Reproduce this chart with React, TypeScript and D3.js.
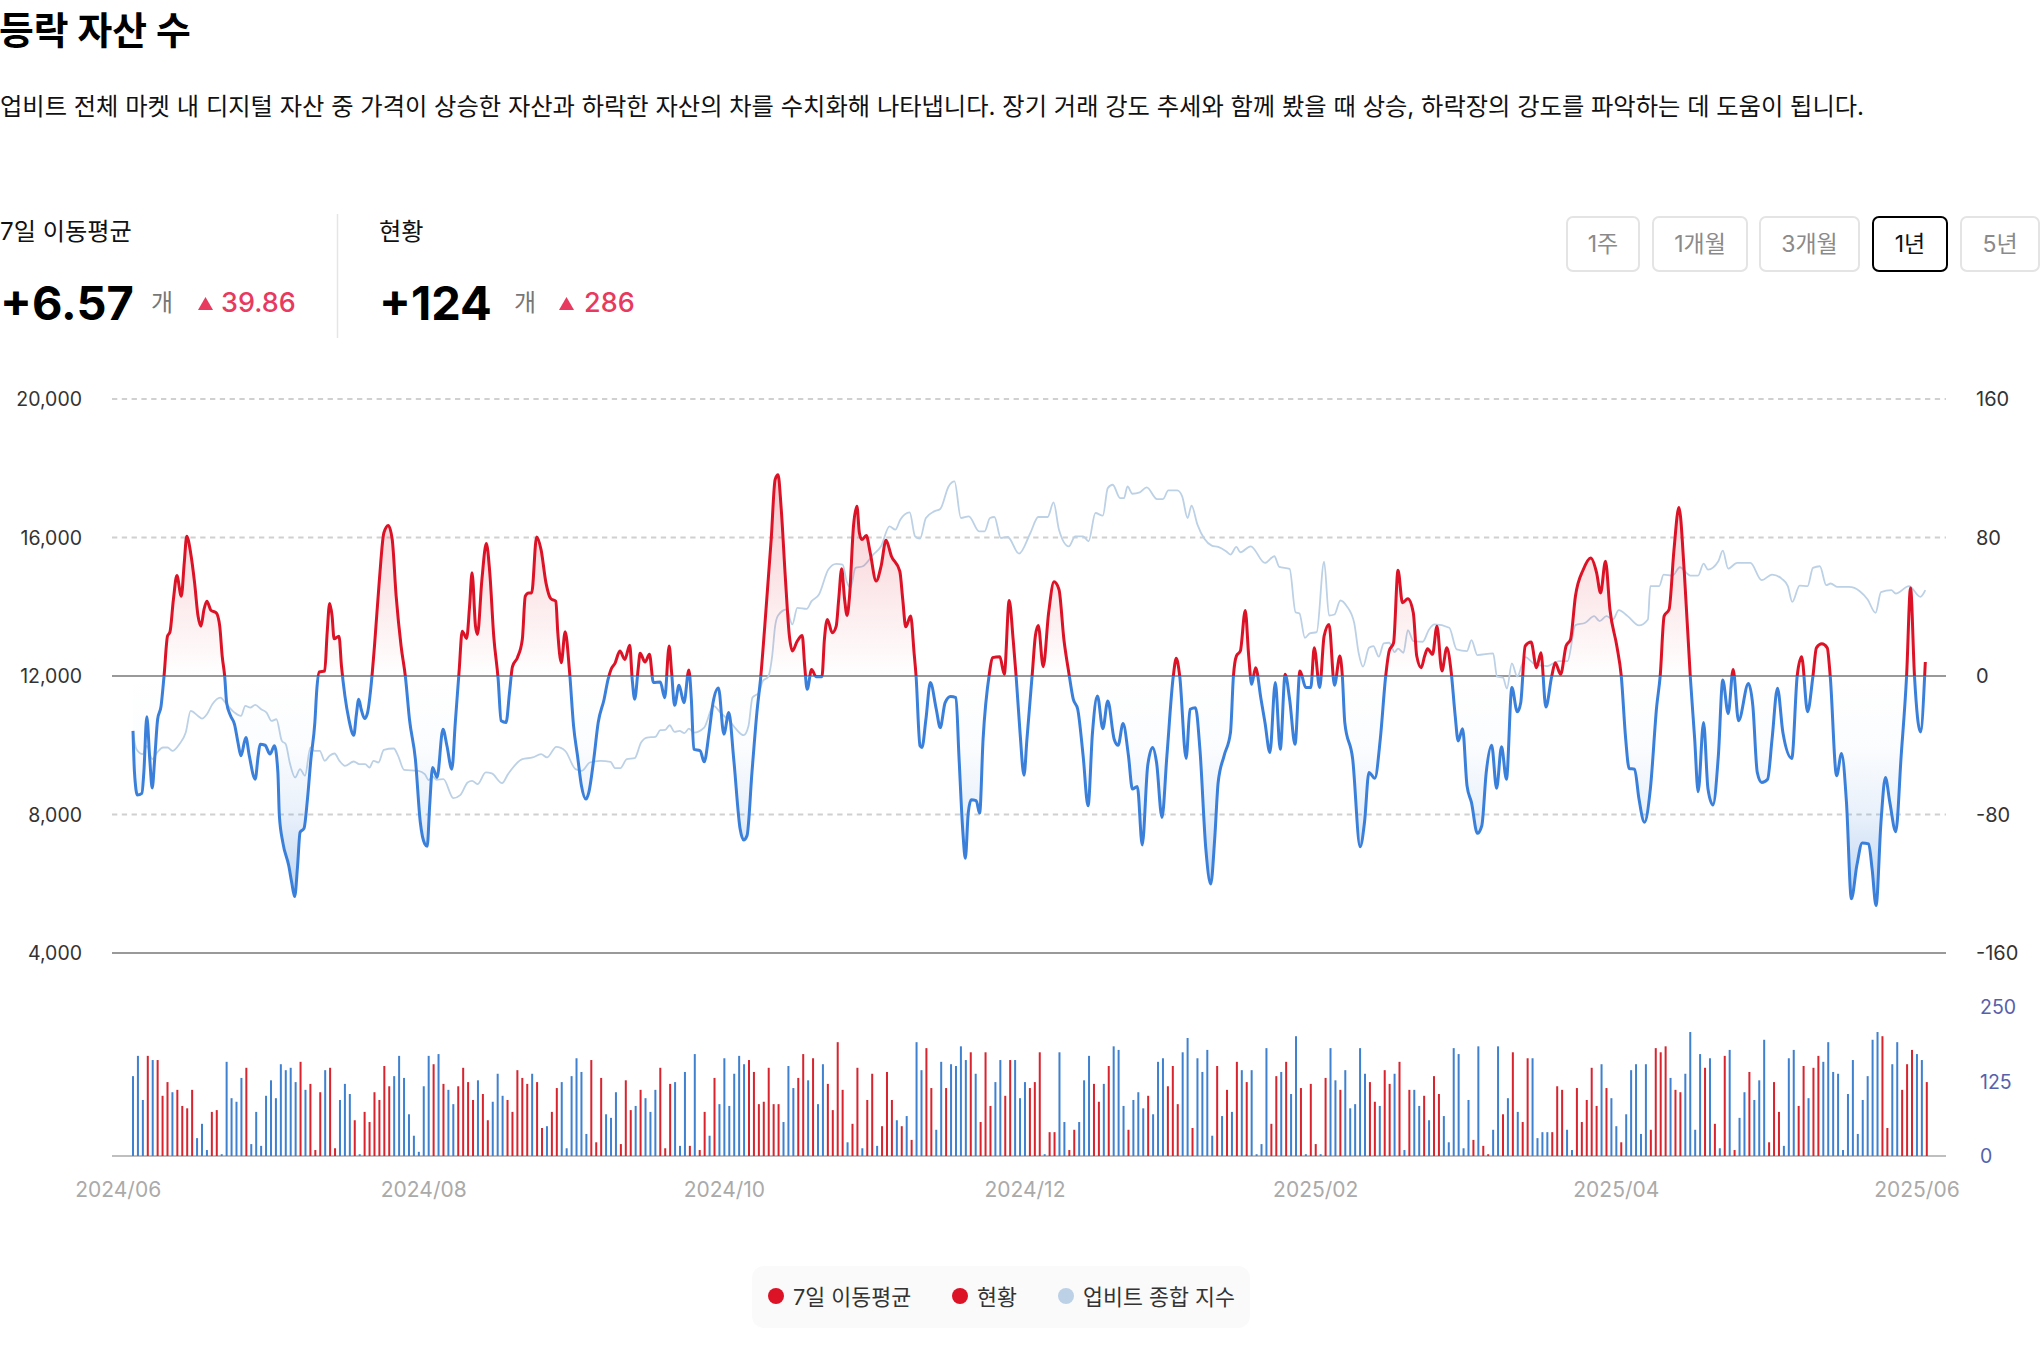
import * as d3 from "d3";

const FONT = "Inter, 'Noto Sans CJK KR', sans-serif";

const leftTicks = [20000, 16000, 12000, 8000, 4000];
const rightTicks = [160, 80, 0, -80, -160];
const barTicks = [250, 125, 0];
const dateLabels = ["2024/06", "2024/08", "2024/10", "2024/12", "2025/02", "2025/04", "2025/06"];
const dateDays = [-3, 59, 120, 181, 240, 301, 362];
const ranges = ["1주", "1개월", "3개월", "1년", "5년"];
const legendItems = ["7일 이동평균", "현황", "업비트 종합 지수"];

// [day index, 7 day average]
const maPoints: [number, number][] = [
  [0, -31.7], [0.3, -55.7], [0.9, -68.8], [1.8, -67.8], [2.2, -55.7], [2.8, -23.6], [3.4, -48], [3.9, -64.7], [4.4, -48], [5, -25],
  [5.7, -17.3], [6.3, 0], [7, 23], [7.5, 25.4], [8.2, 44.2], [8.9, 58], [9.8, 46.1], [10.4, 65.3], [10.9, 80.7], [11.7, 71.1],
  [12.5, 53.8], [13.2, 34.6], [13.8, 28.8], [14.4, 38.4], [15, 43.2], [15.8, 38], [16.9, 36.5], [17.6, 28.8], [18.1, 11.5], [18.6, 0],
  [19, -15.4], [19.8, -23], [20.6, -27.9], [21.3, -38.4], [21.9, -46.1], [22.9, -35.5], [23.6, -46.1], [24.8, -59.6], [25.4, -46.1], [25.8, -39.4],
  [26.8, -40], [27.8, -45.1], [28.7, -40.3], [29.4, -55.7], [29.7, -80.7], [30.4, -96.1], [31.6, -109.5], [32.2, -119.1], [32.8, -127.4], [33.4, -109.5],
  [33.9, -90.3], [34.7, -88], [35.4, -71.1], [36.1, -48], [36.9, -26.9], [37.3, -7.7], [37.8, 2.3], [38.9, 2.9], [39.4, 25], [39.9, 41.9],
  [40.4, 34.6], [40.8, 21.5], [41.8, 23], [42.3, 5.8], [43, -11.5], [43.8, -25], [44.8, -34.2], [45.3, -23], [45.8, -13.4], [46.3, -19.2],
  [47, -24.6], [47.6, -21.1], [48.3, -5.8], [49, 17.3], [50, 55.7], [50.9, 82.6], [51.8, 87], [52.6, 78.8], [53.4, 46.1], [54.4, 17.3],
  [55.3, -1], [56.1, -25], [57.3, -48], [58.3, -84.5], [59.2, -97], [59.7, -98.4], [60.2, -74.9], [60.8, -52.8], [61.7, -58.6], [62.9, -30.7],
  [63.7, -40.3], [64.7, -53.8], [65.4, -26.9], [66.2, 3.8], [66.8, 25.9], [67.7, 21.7], [68.3, 40.3], [68.8, 59.6], [69.5, 28.8], [69.9, 24],
  [70.8, 55.7], [71.7, 76.5], [72.4, 59.6], [73.2, 23], [74.1, -1.9], [74.7, -25.9], [75.7, -26.9], [76.4, -9.6], [77, 5.4], [78, 10.6],
  [79, 21.1], [79.6, 46.1], [80.3, 48], [80.9, 48], [81.9, 80.3], [82.8, 73], [83.8, 53.8], [84.8, 44.6], [85.8, 43.2], [86.2, 25],
  [86.9, 7.7], [87.7, 25.6], [88.6, 1.9], [89.4, -28.8], [90.2, -46.1], [91, -63.4], [91.9, -71.1], [92.5, -67.2], [93.5, -48], [94.4, -26.9],
  [95.6, -13.4], [96.4, -1.9], [97, 3.8], [97.8, 7.3], [98.8, 14.4], [99.8, 9.6], [100.8, 17.7], [101.3, -1.9], [101.8, -13.4], [102.5, 3.8],
  [102.9, 13.1], [103.9, 8.1], [104.8, 12.5], [105.6, -3.8], [107, -3.5], [107.9, -12.5], [108.8, 17.3], [109.3, 1.9], [109.9, -16.9], [110.8, -5.4],
  [111.8, -15.4], [112.8, 3.5], [113.3, -13.4], [113.8, -42.3], [115.1, -43.2], [115.9, -49.6], [116.9, -32.7], [117.7, -15.4], [118.8, -6.9], [119.9, -33.6],
  [120.9, -21.1], [121.9, -48], [123.2, -88.4], [123.9, -94.7], [124.6, -92.2], [125.6, -55.7], [126.6, -21.1], [127.4, 0], [128.2, 28.8], [129.5, 78.8],
  [130.3, 113.4], [130.9, 116.2], [131.5, 98], [132.4, 55.7], [133.2, 23], [133.8, 14.4], [134.8, 20.2], [135.8, 23.4], [136.3, 5.8], [136.8, -7.7],
  [137.7, 3.8], [138.6, -0.4], [139.8, -0.4], [140.3, 21.1], [140.9, 32.7], [141.9, 25], [142.7, 28.8], [143.2, 44.2], [143.8, 61.9], [144.4, 44.2],
  [144.9, 35], [145.4, 46.1], [146.2, 86.5], [146.9, 98], [147.4, 82.6], [147.9, 78.8], [148.8, 81.1], [149.6, 71.1], [150.8, 54.9], [151.8, 63.4],
  [152.8, 78.4], [153.9, 69.2], [155.6, 60.5], [156.2, 44.2], [156.8, 28.4], [157.8, 34.6], [158.5, 13.4], [158.9, 0], [159.7, -40.3], [160.1, -41.3],
  [160.9, -25], [161.8, -3.8], [163, -19.2], [163.8, -29.8], [164.8, -15.4], [165.9, -11.9], [167, -12.5], [167.6, -46.1], [168.4, -90.3], [168.9, -105.3],
  [169.5, -78.8], [170.1, -71.5], [171.1, -72], [171.8, -79.2], [172.5, -36.5], [173.8, 1.9], [174.4, 10.6], [175.9, 11.1], [176.8, 1], [177.8, 43.6],
  [178.6, 21.1], [179.2, 0], [180, -32.7], [180.8, -57.3], [181.4, -36.5], [182.5, 1.9], [183.1, 23], [183.7, 29.2], [184.7, 5.4], [185.8, 36.5],
  [186.9, 54.4], [187.9, 50], [188.9, 21.1], [189.9, 1.9], [190.8, -13.4], [191.7, -19.2], [192.8, -46.1], [193.8, -74.9], [194.7, -32.7], [195.7, -11.5],
  [196.8, -30.4], [197.8, -14.4], [199.1, -36.5], [199.9, -40], [200.9, -27.5], [202, -46.1], [202.8, -65.3], [203.8, -63.8], [204.8, -97.6], [205.9, -51.9],
  [206.9, -41.3], [207.7, -50], [208.8, -81.7], [209.8, -46.1], [211.1, 0], [211.7, 10.2], [212.4, 0], [213.7, -47.6], [214.5, -19.2], [215.6, -18.3],
  [216.5, -42.3], [217.7, -99.9], [218.7, -120.1], [219.5, -94.1], [220.2, -61.5], [221.4, -46.1], [222.7, -32.7], [223.3, 0], [223.9, 11.5], [224.7, 14.4],
  [225.7, 37.8], [226.4, 11.5], [227, -4.8], [227.8, 4.8], [228.9, -13.4], [229.7, -26.9], [230.7, -44.2], [231.8, -3.8], [232.8, -42.3], [233.8, 1],
  [234.7, -13.4], [235.8, -39.4], [236.8, 2.9], [238, -6.7], [239, -6.7], [239.7, 16.3], [240.8, -6.7], [241.7, 23], [242.7, 29.8], [243.8, -5.4],
  [244.9, 11.5], [245.4, 0], [245.9, -26.9], [247.5, -48], [249, -98.6], [249.9, -84.5], [250.8, -55.7], [252, -59], [253.1, -36.5], [254.2, 0],
  [254.9, 14.4], [255.8, 19.2], [256.7, 61.1], [257.6, 42.3], [258.7, 44.6], [259.8, 36.5], [260.5, 11.5], [261.4, 4.8], [262.1, 11.5], [262.7, 15.8],
  [263.7, 12.5], [264.6, 28.8], [265.6, 2.9], [266.6, 16.3], [267.5, 1.9], [268.3, -23], [268.9, -37.5], [269.8, -30.4], [270.7, -63.4], [271.6, -73],
  [272.8, -90.9], [273.7, -86.5], [274.6, -55.7], [275.7, -40], [276.7, -64.9], [277.7, -40.9], [278.7, -59.6], [279.8, -6.7], [280.9, -20.7], [281.6, -15.4],
  [282.5, 17.3], [283.7, 19.6], [284.8, 4.8], [285.7, 13.4], [286.7, -17.9], [287.9, 0], [288.6, 7.7], [289.7, 1], [290.8, 17.3], [291.7, 21.1],
  [292.7, 46.1], [294.3, 61.5], [295.8, 68.2], [297, 59.6], [297.8, 48], [298.8, 66.3], [299.7, 38.4], [301.1, 17.3], [302, 0], [302.9, -36.5],
  [303.6, -53.4], [304.7, -53.8], [305.6, -71.1], [306.7, -84.5], [307.9, -65.3], [309.2, -17.3], [309.9, 0], [310.7, 34.6], [311.7, 38.4], [312.7, 73],
  [313.7, 97.4], [314.8, 59.6], [316, 0], [316.9, -36.5], [317.6, -66.9], [318.7, -26.9], [319.6, -65.3], [320.6, -74.5], [321.7, -46.1], [322.6, -2.3],
  [323.7, -21.7], [324.7, 3.8], [325.8, -25.9], [327.8, -4.4], [328.7, -17.3], [329.6, -55.7], [330.5, -61.5], [331.7, -59.6], [332.6, -36.5], [333.7, -7.1],
  [334.8, -32.7], [336.6, -47.6], [337.7, 0], [338.6, 11.1], [339.8, -20.6], [340.9, 0], [341.6, 16.3], [342.7, 18.6], [343.8, 16.3], [344.4, 0],
  [345.7, -57.6], [346.7, -44.8], [347.7, -73], [348.7, -128.7], [349.8, -109.5], [350.9, -96.4], [352.2, -97], [352.9, -111.4], [353.7, -132.6], [354.7, -84.5],
  [355.6, -58.6], [356.5, -73], [357.7, -89.9], [358.8, -46.1], [359.9, 0], [360.7, 50.9], [361.5, 0], [362.7, -32.3], [363.7, 8.1],
];

// [day index, upbit composite index]
const indexPoints: [number, number][] = [
  [0, 10367], [0.7, 9887], [2, 9743], [2.8, 9983], [3.9, 9600], [4.9, 9790], [6.1, 9935], [7, 9935], [8, 9839], [9.4, 10031],
  [10.7, 10367], [11.7, 10991], [13.2, 10847], [14, 10770], [15, 10895], [16.1, 11183], [17.7, 11376], [19, 11183], [20.6, 10943], [21.9, 10847],
  [22.8, 11135], [23.8, 11087], [24.8, 11164], [26, 11039], [27.1, 10943], [28.1, 10703], [29.1, 10751], [30.2, 10127], [31, 10031], [31.8, 9502],
  [32.9, 9070], [33.9, 9310], [34.9, 9118], [36, 9935], [36.8, 9839], [37.9, 9839], [38.9, 9550], [39.9, 9695], [40.9, 9762], [41.9, 9550],
  [43, 9406], [44.8, 9531], [45.9, 9454], [47.1, 9454], [48, 9358], [48.8, 9550], [49.8, 9502], [50.9, 9867], [52.9, 9906], [53.8, 9695],
  [55, 9291], [57.9, 9262], [59.2, 9166], [60, 8993], [60.8, 9099], [61.6, 9003], [63, 9022], [65, 8475], [66.4, 8561], [67.9, 8926],
  [68.8, 8974], [69.9, 8878], [71.6, 9214], [72.8, 9185], [74.9, 8907], [76.1, 9166], [79, 9599], [81.1, 9647], [82.8, 9743], [84, 9647],
  [85.9, 9954], [87.7, 9839], [89.8, 9310], [91.1, 9262], [92.7, 9502], [94.8, 9550], [96.9, 9522], [97.8, 9339], [98.9, 9339], [100.2, 9599],
  [101.8, 9627], [103.1, 10079], [104.3, 10223], [106, 10242], [107, 10434], [108, 10444], [108.9, 10578], [109.9, 10386], [110.9, 10415], [111.9, 10348],
  [112.8, 10482], [113.8, 10367], [115.9, 10511], [117.8, 11135], [119.2, 10943], [121.2, 10674], [122.4, 10463], [123.9, 10290], [124.9, 10559], [125.7, 11376],
  [127, 11520], [127.8, 11856], [128.9, 11981], [129.7, 12576], [130.3, 13441], [130.9, 13748], [132.6, 13921], [133.8, 13489], [134.8, 13969], [136.7, 13940],
  [137.7, 14161], [139.2, 14353], [141.1, 15074], [142.7, 15237], [144, 15218], [144.8, 14738], [145.6, 14546], [146.6, 15122], [148.1, 15170], [150.2, 15506],
  [151.8, 15746], [153.5, 16323], [154.7, 16227], [155.7, 16515], [157.6, 16726], [158.7, 16034], [159.7, 15967], [160.9, 16563], [162.6, 16755], [163.8, 16822],
  [165.5, 17475], [166.7, 17620], [168, 16563], [169.6, 16611], [171.7, 16179], [172.8, 16179], [173.9, 16563], [174.8, 16592], [176.1, 15986], [177.5, 16015],
  [179.8, 15535], [182.1, 16131], [183.7, 16592], [185.6, 16592], [186.8, 17014], [187.9, 16227], [189.9, 15746], [191.2, 16035], [192.8, 16035], [193.9, 15890],
  [195.3, 16707], [196.8, 16630], [197.8, 17427], [198.8, 17523], [200.3, 17139], [201.1, 17139], [201.8, 17475], [202.8, 17264], [204.3, 17303], [205.7, 17447],
  [207.8, 17110], [209, 17110], [210.1, 17360], [211.9, 17360], [212.9, 17187], [214, 16563], [214.8, 16918], [216, 16371], [218.9, 15766], [220.2, 15727],
  [221.8, 15602], [222.7, 15506], [223.9, 15727], [224.7, 15574], [226.8, 15746], [229.7, 15266], [231.6, 15458], [232.6, 15151], [234.7, 15093], [235.9, 13844],
  [236.7, 13806], [237.8, 13105], [238.8, 13230], [240.2, 13268], [241.7, 15304], [242.7, 13748], [243.8, 13777], [245, 14181], [246.3, 14017], [247.8, 13537],
  [248.7, 12672], [249.6, 12269], [250.8, 12816], [251.7, 12865], [252.8, 12557], [253.8, 12941], [254.9, 12961], [256, 12692], [256.7, 12788], [257.8, 12672],
  [258.7, 13326], [259.8, 13009], [261.7, 12989], [263, 13345], [264.1, 13489], [267.1, 13393], [268.6, 12768], [270.7, 12720], [271.6, 13037], [272.8, 12605],
  [276, 12653], [276.8, 11981], [278, 11952], [278.8, 11635], [279.8, 12365], [280.9, 11981], [282.5, 12548], [284.5, 12336], [287, 12288], [289.3, 12432],
  [291.1, 12432], [292.7, 13470], [294.7, 13537], [296.5, 13729], [297.6, 13585], [299, 13729], [300.3, 13633], [301.5, 13902], [303.3, 13729], [305.6, 13460],
  [307.4, 13633], [307.9, 14594], [309.7, 14594], [310.6, 14930], [312.4, 14901], [313.9, 15141], [316, 14901], [317.6, 14901], [318.7, 15247], [319.6, 15074],
  [321.7, 15314], [322.6, 15622], [323.7, 15103], [325.5, 15266], [328.2, 15266], [330.5, 14767], [332.6, 14930], [334.6, 14805], [335.8, 14594], [336.7, 14142],
  [338.2, 14613], [339.8, 14594], [340.9, 15122], [342.3, 15170], [343.6, 14623], [344.5, 14671], [345.9, 14574], [348.2, 14574], [350.4, 14450], [352, 14209],
  [353.6, 13825], [354.7, 14421], [356.8, 14478], [357.7, 14382], [360.4, 14594], [362.7, 14286], [363.7, 14478],
];

// daily rise minus fall count, one per day, negative is drawn blue
const dailyDiff = [
  -134, -168, -94, 168, -161, 161, 101, 124, -107, 111, 84, 80, 111, -30, -54, -10, 74, 77, -3, -158, -97, -91, -131, 148, -20, -74, -17, -101, -127, -97,
  -154, -144, -148, -124, 158, -111, 121, 10, 107, -144, 148, 13, -94, -121, -104, 60, -3, 74, 57, 107, 94, 151, 117, -134, -168, -131, -70, -34, -7, -117,
  -168, 154, -171, 121, -111, -87, 117, 148, 124, 94, -127, 104, 60, -91, -138, -101, 94, 74, 144, 131, 121, -138, 124, 47, -50, 74, 114, -124, -13, -134,
  -164, -141, -37, 161, 23, 131, -70, -64, -107, 20, 127, 77, -84, 111, -97, -74, -111, 148, 13, 121, -124, -17, -141, 17, -171, 10, 74, -34, 131, -87,
  -164, -84, -138, -168,
  -154, 161, 141, 87, 91, 148, 87, 87, -57, -151, -114, 131, 171, -127, 164, -87, -154, 121, 77, 191, 111, -23, 54, 148, -13, 94, 138, -17, 50, 141,
  94, -60, 50, -67, 27, -191, -144, 181, 114, -44, -158, 114, -154, -151, -184, -161, 174, -138, 57, 174, 84, -124, -161, 101, 161, -161, -97, -124, 114, 124,
  174, -3, 40, 40, -174, -57, 10, 44, -57, -127, -168, 121, 91, -121, 151, -184, -178, -84, 44, -94, -107, -80, 101, -70, -158, -164, 117, 151, 87, -174,
  -198, 47, -164, -141, -178, -34, 151, -67, 111, -74, 158, -144, 124, -144, -3, -20, -181, 54, 134, -141, 158, -104, -201, 114, -3, 121, 20, -3, 131, -181,
  -127, 111, -144, -80, -87, -181, -138, 124, 91, -84, 144, 121, -138, 158,
  -10, 111, -111, -84, 101, -60, 134, 104, -67, -23, -181, -171, -13, -94, 27, -184, 17, 3, -44, -184, 70, -97, 174, -74, 57, 164, -164, -30, -40, -40,
  40, 117, 111, -44, -10, 114, 57, 94, 148, 84, -154, 114, -97, -50, 23, -70, -144, -154, -37, -154, 44, 181, 174, 184, -131, 111, 107, -138, -208, -44,
  -171, 148, -164, 54, -13, 168, -178, 10, -64, -107, 141, -94, -127, -195, 23, 124, 74, -17, -164, -178, 84, 151, -97, 148, 168, -158, -191, -141, -138, -10,
  -104, -161, -37, -94, -134, -195, -208, 201, 47, -154, -191, 111, 154, 178, -171, -161, 124,
];

const x = d3.scaleLinear().domain([0, dailyDiff.length - 1]).range([133, 1926.8]);
const yRight = d3.scaleLinear().domain([-160, 160]).range([953, 399]);
const yLeft = d3.scaleLinear().domain([4000, 20000]).range([953, 399]);
const yBar = d3.scaleLinear().domain([0, 250]).range([1156, 1007]);

const maLine = d3.line<[number, number]>().x((d) => x(d[0])).y((d) => yRight(d[1])).curve(d3.curveMonotoneX);
const maArea = d3.area<[number, number]>().x((d) => x(d[0])).y0(yRight(0)).y1((d) => yRight(d[1])).curve(d3.curveMonotoneX);
const indexLine = d3.line<[number, number]>().x((d) => x(d[0])).y((d) => yLeft(d[1])).curve(d3.curveMonotoneX);

const RED = "#dc1226";
const BLUE = "#3a7fd9";
const INDEX = "#bcd1e6";

const buttons = [
  { left: 1567, right: 1639 },
  { left: 1653, right: 1747 },
  { left: 1760, right: 1859 },
  { left: 1873, right: 1947 },
  { left: 1961, right: 2039 },
];

function Stat({ px, label, value, delta }: { px: number; label: string; value: string; delta: string }) {
  return (
    <g fontFamily={FONT}>
      <text x={px} y={240} fontSize={24.2} fill="#111">{label}</text>
      <text x={px} y={320} fontSize={47} fontWeight={700} fill="#000">{value}</text>
      <text x={px + (value.length > 4 ? 151 : 135)} y={311} fontSize={24} fill="#777">개</text>
      <path
        d={`M${px + (value.length > 4 ? 198 : 180)},310 l7.5,-13 l7.5,13 z`}
        fill="#e8395e"
      />
      <text x={px + (value.length > 4 ? 221 : 205)} y={312} fontSize={27} fontWeight={500} fill="#e8395e">{delta}</text>
    </g>
  );
}

export default function App() {
  return (
    <svg width={2040} height={1358} style={{ position: "absolute", left: 0, top: 0, background: "#fff" }}>
      <defs>
        <linearGradient id="maStroke" gradientUnits="userSpaceOnUse" x1={0} x2={0} y1={yRight(160)} y2={yRight(-160)}>
          <stop offset="0.5" stopColor={RED} />
          <stop offset="0.5" stopColor={BLUE} />
        </linearGradient>
        <linearGradient id="maFill" gradientUnits="userSpaceOnUse" x1={0} x2={0} y1={yRight(120)} y2={yRight(-120)}>
          <stop offset="0" stopColor={RED} stopOpacity={0.24} />
          <stop offset="0.5" stopColor={RED} stopOpacity={0} />
          <stop offset="0.5" stopColor={BLUE} stopOpacity={0} />
          <stop offset="0.67" stopColor={BLUE} stopOpacity={0.02} />
          <stop offset="0.83" stopColor={BLUE} stopOpacity={0.11} />
          <stop offset="1" stopColor={BLUE} stopOpacity={0.3} />
        </linearGradient>
      </defs>

      <text x={-1} y={44} fontFamily={FONT} fontSize={37.8} fontWeight={700} fill="#000">등락 자산 수</text>
      <text x={0} y={115} fontFamily={FONT} fontSize={24.27} fill="#111">
        업비트 전체 마켓 내 디지털 자산 중 가격이 상승한 자산과 하락한 자산의 차를 수치화해 나타냅니다. 장기 거래 강도 추세와 함께 봤을 때 상승, 하락장의 강도를 파악하는 데 도움이 됩니다.
      </text>

      <Stat px={0} label="7일 이동평균" value="+6.57" delta="39.86" />
      <line x1={337.5} x2={337.5} y1={214} y2={338} stroke="#e5e5e5" strokeWidth={1.5} />
      <Stat px={379} label="현황" value="+124" delta="286" />

      {ranges.map((r, i) => {
        const b = buttons[i];
        const active = r === "1년";
        return (
          <g key={r}>
            <rect
              x={b.left} y={217} width={b.right - b.left} height={54} rx={6}
              fill="#fff" stroke={active ? "#000" : "#e4e4e4"} strokeWidth={2}
            />
            <text
              x={(b.left + b.right) / 2} y={252} textAnchor="middle"
              fontFamily={FONT} fontSize={23} fill={active ? "#111" : "#8a8a8a"}
            >
              {r}
            </text>
          </g>
        );
      })}

      {rightTicks.map((t) => (
        <line
          key={t} x1={112} x2={1946} y1={yRight(t)} y2={yRight(t)}
          stroke={t === 0 || t === -160 ? "#999" : "#d0d0d0"}
          strokeWidth={2}
          strokeDasharray={t === 0 || t === -160 ? undefined : "5.3 4.5"}
        />
      ))}
      {leftTicks.map((t) => (
        <text key={t} x={82} y={yLeft(t) + 7} textAnchor="end" fontFamily={FONT} fontSize={19.5} fill="#333">
          {d3.format(",")(t)}
        </text>
      ))}
      {rightTicks.map((t) => (
        <text key={t} x={1976} y={yRight(t) + 7} fontFamily={FONT} fontSize={20} fill="#333">{t}</text>
      ))}

      <path d={indexLine(indexPoints) ?? ""} fill="none" stroke={INDEX} strokeWidth={1.8} />
      <path d={maArea(maPoints) ?? ""} fill="url(#maFill)" />
      <path d={maLine(maPoints) ?? ""} fill="none" stroke="url(#maStroke)" strokeWidth={3} strokeLinejoin="round" />

      <line x1={112} x2={1946} y1={yBar(0)} y2={yBar(0)} stroke="#aaa" strokeWidth={1.5} />
      {dailyDiff.map((v, i) => (
        <rect
          key={i} x={x(i) - 1} y={yBar(Math.abs(v))} width={2}
          height={yBar(0) - yBar(Math.abs(v))}
          fill={v >= 0 ? "#d9232e" : "#3f80d0"}
        />
      ))}
      {barTicks.map((t) => (
        <text key={t} x={1980} y={yBar(t) + 7} fontFamily={FONT} fontSize={19.5} fill="#5561ad">{t}</text>
      ))}

      {dateLabels.map((l, i) => (
        <text
          key={l} x={x(dateDays[i])} y={1197} textAnchor="middle"
          fontFamily={FONT} fontSize={21} fill="#aaa"
        >
          {l}
        </text>
      ))}

      <rect x={752} y={1266} width={498} height={62} rx={12} fill="#fafafa" />
      {legendItems.map((l, i) => (
        <g key={l} fontFamily={FONT}>
          <circle cx={[776, 960, 1066][i]} cy={1296} r={8} fill={i === 2 ? INDEX : RED} />
          <text x={[793, 977, 1083][i]} y={1305} fontSize={21.7} fill="#333">{l}</text>
        </g>
      ))}
    </svg>
  );
}
